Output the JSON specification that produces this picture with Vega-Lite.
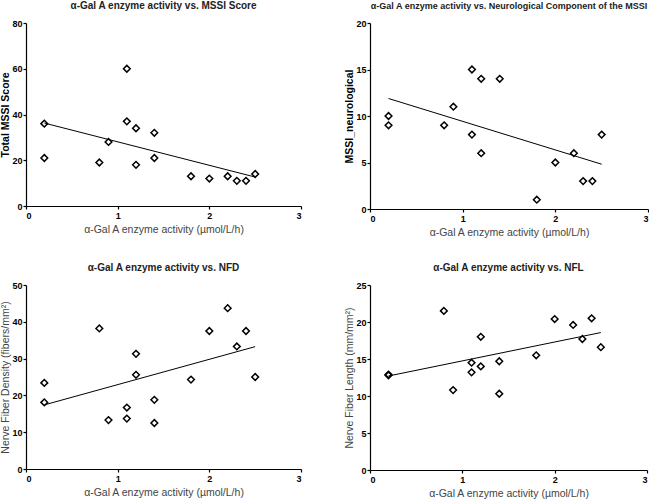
{
  "$schema": "https://vega.github.io/schema/vega-lite/v6.json",
  "background": "white",
  "padding": {"left": 0, "top": 1, "right": 0, "bottom": 0},
  "datasets": {
    "mssi": [
      {"x": 0.2, "y": 36}, {"x": 0.2, "y": 21}, {"x": 0.8, "y": 19}, {"x": 0.9, "y": 28},
      {"x": 1.1, "y": 60}, {"x": 1.1, "y": 37}, {"x": 1.2, "y": 34}, {"x": 1.2, "y": 18},
      {"x": 1.4, "y": 32}, {"x": 1.4, "y": 21}, {"x": 1.8, "y": 13}, {"x": 2.0, "y": 12},
      {"x": 2.2, "y": 13}, {"x": 2.3, "y": 11}, {"x": 2.4, "y": 11}, {"x": 2.5, "y": 14}
    ],
    "neuro": [
      {"x": 0.2, "y": 10}, {"x": 0.2, "y": 9}, {"x": 0.8, "y": 9}, {"x": 0.9, "y": 11},
      {"x": 1.1, "y": 15}, {"x": 1.1, "y": 8}, {"x": 1.2, "y": 14}, {"x": 1.2, "y": 6},
      {"x": 1.4, "y": 14}, {"x": 1.8, "y": 1}, {"x": 2.0, "y": 5}, {"x": 2.2, "y": 6},
      {"x": 2.3, "y": 3}, {"x": 2.4, "y": 3}, {"x": 2.5, "y": 8}
    ],
    "nfd": [
      {"x": 0.2, "y": 23.4}, {"x": 0.2, "y": 18.1}, {"x": 0.8, "y": 38.2}, {"x": 0.9, "y": 13.3},
      {"x": 1.1, "y": 16.7}, {"x": 1.1, "y": 13.7}, {"x": 1.2, "y": 31.3}, {"x": 1.2, "y": 25.6},
      {"x": 1.4, "y": 18.8}, {"x": 1.4, "y": 12.5}, {"x": 1.8, "y": 24.3}, {"x": 2.0, "y": 37.5},
      {"x": 2.2, "y": 43.7}, {"x": 2.3, "y": 33.3}, {"x": 2.4, "y": 37.5}, {"x": 2.5, "y": 25.0}
    ],
    "nfl": [
      {"x": 0.2, "y": 12.9}, {"x": 0.2, "y": 12.8}, {"x": 0.8, "y": 21.5}, {"x": 0.9, "y": 10.8},
      {"x": 1.1, "y": 14.5}, {"x": 1.1, "y": 13.2}, {"x": 1.2, "y": 18.0}, {"x": 1.2, "y": 14.0},
      {"x": 1.4, "y": 14.7}, {"x": 1.4, "y": 10.3}, {"x": 1.8, "y": 15.5}, {"x": 2.0, "y": 20.4},
      {"x": 2.2, "y": 19.6}, {"x": 2.3, "y": 17.7}, {"x": 2.4, "y": 20.5}, {"x": 2.5, "y": 16.6}
    ]
  },
  "columns": 2,
  "spacing": {"column": 42, "row": 25},
  "concat": [
    {
      "width": 275, "height": 183,
      "title": "α-Gal A enzyme activity vs. MSSI Score",
      "data": {"name": "mssi"},
      "encoding": {
        "x": {"field": "x", "type": "quantitative", "scale": {"domain": [0, 3], "nice": false}, "axis": {"values": [0, 1, 2, 3], "format": "d"}, "title": "α-Gal A enzyme activity (µmol/L/h)"},
        "y": {"field": "y", "type": "quantitative", "scale": {"domain": [0, 80], "nice": false}, "axis": {"values": [0, 20, 40, 60, 80], "titleFontWeight": "bold", "titleColor": "black"}, "title": "Total MSSI Score"}
      },
      "layer": [
        {"mark": {"type": "point", "shape": "diamond", "filled": false, "color": "black", "size": 45, "strokeWidth": 1.5, "opacity": 1}},
        {"transform": [{"regression": "y", "on": "x"}],
         "mark": {"type": "line", "color": "black", "strokeWidth": 1}}
      ]
    },
    {
      "width": 278, "height": 186,
      "title": {"text": "α-Gal A enzyme activity vs. Neurological Component of the MSSI", "fontSize": 9},
      "data": {"name": "neuro"},
      "encoding": {
        "x": {"field": "x", "type": "quantitative", "scale": {"domain": [0, 3], "nice": false}, "axis": {"values": [0, 1, 2, 3], "format": "d"}, "title": "α-Gal A enzyme activity (µmol/L/h)"},
        "y": {"field": "y", "type": "quantitative", "scale": {"domain": [0, 20], "nice": false}, "axis": {"values": [0, 5, 10, 15, 20], "titleFontWeight": "bold", "titleColor": "black"}, "title": "MSSI_neurological"}
      },
      "layer": [
        {"mark": {"type": "point", "shape": "diamond", "filled": false, "color": "black", "size": 45, "strokeWidth": 1.5, "opacity": 1}},
        {"transform": [{"regression": "y", "on": "x"}],
         "mark": {"type": "line", "color": "black", "strokeWidth": 1}}
      ]
    },
    {
      "width": 275, "height": 184,
      "title": "α-Gal A enzyme activity vs. NFD",
      "data": {"name": "nfd"},
      "encoding": {
        "x": {"field": "x", "type": "quantitative", "scale": {"domain": [0, 3], "nice": false}, "axis": {"values": [0, 1, 2, 3], "format": "d"}, "title": "α-Gal A enzyme activity (µmol/L/h)"},
        "y": {"field": "y", "type": "quantitative", "scale": {"domain": [0, 50], "nice": false}, "axis": {"values": [0, 10, 20, 30, 40, 50]}, "title": "Nerve Fiber Density (fibers/mm²)"}
      },
      "layer": [
        {"mark": {"type": "point", "shape": "diamond", "filled": false, "color": "black", "size": 45, "strokeWidth": 1.5, "opacity": 1}},
        {"transform": [{"regression": "y", "on": "x"}],
         "mark": {"type": "line", "color": "black", "strokeWidth": 1}}
      ]
    },
    {
      "width": 277, "height": 185,
      "title": "α-Gal A enzyme activity vs. NFL",
      "data": {"name": "nfl"},
      "encoding": {
        "x": {"field": "x", "type": "quantitative", "scale": {"domain": [0, 3], "nice": false}, "axis": {"values": [0, 1, 2, 3], "format": "d"}, "title": "α-Gal A enzyme activity (µmol/L/h)"},
        "y": {"field": "y", "type": "quantitative", "scale": {"domain": [0, 25], "nice": false}, "axis": {"values": [0, 5, 10, 15, 20, 25]}, "title": "Nerve Fiber Length (mm/mm²)"}
      },
      "layer": [
        {"mark": {"type": "point", "shape": "diamond", "filled": false, "color": "black", "size": 45, "strokeWidth": 1.5, "opacity": 1}},
        {"transform": [{"regression": "y", "on": "x"}],
         "mark": {"type": "line", "color": "black", "strokeWidth": 1}}
      ]
    }
  ],
  "config": {
    "view": {"stroke": null},
    "font": "Liberation Sans",
    "title": {"font": "Liberation Sans", "fontSize": 10, "fontWeight": "bold", "color": "#222", "offset": 8},
    "axis": {
      "grid": false,
      "domainColor": "black",
      "domainWidth": 1.2,
      "tickColor": "black",
      "tickSize": 3,
      "tickWidth": 1.2,
      "labelFont": "Liberation Sans",
      "labelFontSize": 9,
      "labelFontWeight": "bold",
      "labelColor": "black",
      "labelPadding": 2,
      "titleFont": "Liberation Sans",
      "titleFontSize": 10.5,
      "titleFontWeight": "normal",
      "titleColor": "#444",
      "titlePadding": 4
    },
    "axisY": {"labelPadding": 1, "titlePadding": 1}
  }
}
